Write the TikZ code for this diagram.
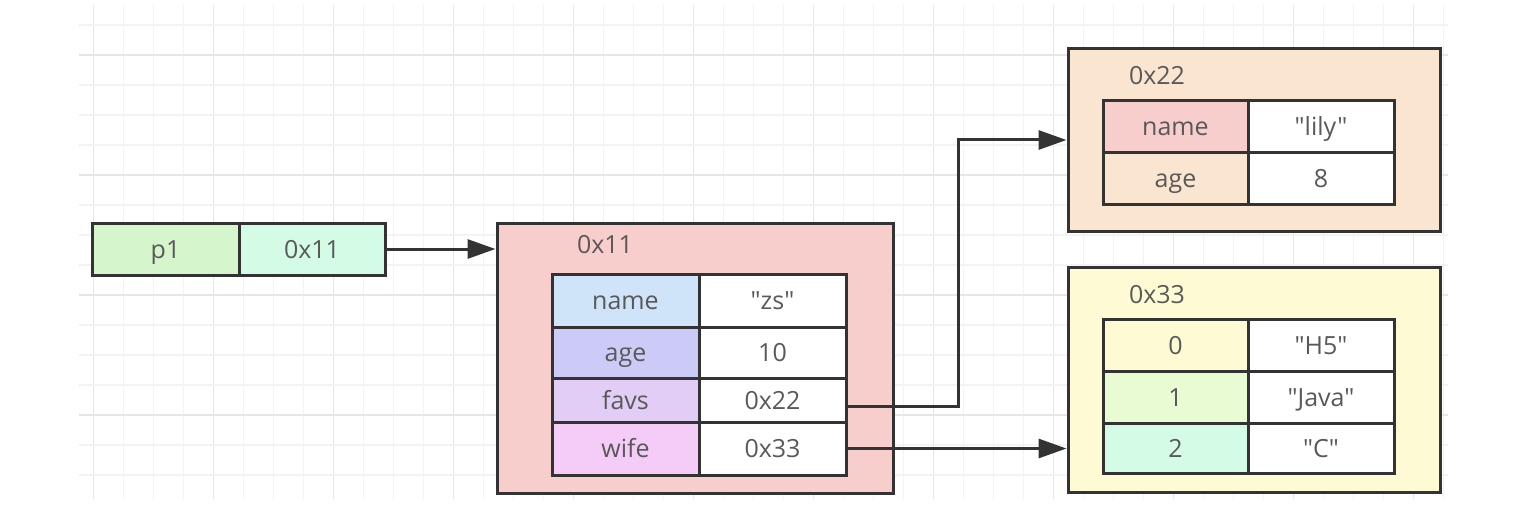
\documentclass[tikz,border=0pt]{standalone}
\usepackage{fontspec}
\newfontfamily\diagfont{Open Sans}
\usetikzlibrary{arrows.meta}
\definecolor{bdr}{HTML}{333333}
\definecolor{txt}{HTML}{595959}
\definecolor{gridminor}{HTML}{F3F3F3}
\definecolor{gridmajor}{HTML}{E6E6E6}
\definecolor{cP}{HTML}{D5F5CC}
\definecolor{cMint}{HTML}{D4FBE5}
\definecolor{cPink}{HTML}{F8CECC}
\definecolor{cBlue}{HTML}{CFE3F9}
\definecolor{cLav}{HTML}{CCCBF7}
\definecolor{cViolet}{HTML}{E2CDF7}
\definecolor{cMag}{HTML}{F5CCF7}
\definecolor{cPeach}{HTML}{FAE5D0}
\definecolor{cYel}{HTML}{FEFBD4}
\definecolor{cLime}{HTML}{E9FBD2}
\begin{document}
\begin{tikzpicture}[x=1pt,y=-1pt,
  txtstyle/.style={text=txt, font=\diagfont\fontsize{25pt}{30pt}\selectfont, text height=18pt, text depth=0pt, inner sep=0pt},
  cell/.style={txtstyle, draw=bdr, line width=3pt, minimum width=#1, anchor=center},
  box/.style={draw=bdr, line width=3pt, inner sep=0pt},
  lbl/.style={txtstyle, anchor=center},
  arr/.style={draw=bdr, line width=3pt, -{Triangle[length=28pt,width=19pt]}}
]
\useasboundingbox (0,0) rectangle (1524,524);
\fill[white] (0,0) rectangle (1524,524);
% grid
\foreach \k in {0,...,45} {
  \pgfmathtruncatemacro{\m}{mod(\k,4)}
  \ifnum\m=0
    \draw[gridmajor, line width=1.6pt] ({93.3+30*\k},5) -- ({93.3+30*\k},499);
  \else
    \draw[gridminor, line width=1.6pt] ({93.3+30*\k},5) -- ({93.3+30*\k},499);
  \fi
}
\foreach \k in {0,...,15} {
  \pgfmathtruncatemacro{\m}{mod(\k+3,4)}
  \ifnum\m=0
    \draw[gridmajor, line width=1.6pt] (79,{25+30*\k}) -- (1448,{25+30*\k});
  \else
    \draw[gridminor, line width=1.6pt] (79,{25+30*\k}) -- (1448,{25+30*\k});
  \fi
}
% p1
\node[cell=147pt, fill=cP, minimum height=52pt] (p1) at (165.5,249) {p1};
\node[cell=146pt, fill=cMint, minimum height=52pt] (v1) at (312,249) {0x11};
% object 0x11
\node[box, fill=cPink, minimum width=396pt, minimum height=270pt] (b11) at (695,358) {};
\node[lbl] (l11) at (605,244) {0x11};
\node[cell=147pt, fill=cBlue, minimum height=53pt] (n1) at (625.5,300.5) {name};
\node[cell=147pt, fill=white, minimum height=53pt] (n2) at (772.5,300.5) {"zs"};
\node[cell=147pt, fill=cLav, minimum height=51pt] (a1) at (625.5,352.5) {age};
\node[cell=147pt, fill=white, minimum height=51pt] (a2) at (772.5,352.5) {10};
\node[cell=147pt, fill=cViolet, minimum height=44pt] (f1) at (625.5,400) {favs};
\node[cell=147pt, fill=white, minimum height=44pt] (f2) at (772.5,400) {0x22};
\node[cell=147pt, fill=cMag, minimum height=53pt] (w1) at (625.5,448.5) {wife};
\node[cell=147pt, fill=white, minimum height=53pt] (w2) at (772.5,448.5) {0x33};
% object 0x22
\node[box, fill=cPeach, minimum width=372pt, minimum height=182pt] (b22) at (1254,140) {};
\node[lbl] (l22) at (1157,76) {0x22};
\node[cell=145pt, fill=cPink, minimum height=52pt] (m1) at (1175.5,127) {name};
\node[cell=146pt, fill=white, minimum height=52pt] (m2) at (1321,127) {"lily"};
\node[cell=145pt, fill=cPeach, minimum height=51pt] (g1) at (1175.5,178.5) {age};
\node[cell=146pt, fill=white, minimum height=51pt] (g2) at (1321,178.5) {8};
% object 0x33
\node[box, fill=cYel, minimum width=372pt, minimum height=225pt] (b33) at (1254,379.5) {};
\node[lbl] (l33) at (1157,294) {0x33};
\node[cell=145pt, fill=cYel, minimum height=52pt] (z1) at (1175.5,345) {0};
\node[cell=146pt, fill=white, minimum height=52pt] (z2) at (1321,345) {"H5"};
\node[cell=145pt, fill=cLime, minimum height=52pt] (o1) at (1175.5,397) {1};
\node[cell=146pt, fill=white, minimum height=52pt] (o2) at (1321,397) {"Java"};
\node[cell=145pt, fill=cMint, minimum height=50pt] (t1) at (1175.5,448) {2};
\node[cell=146pt, fill=white, minimum height=50pt] (t2) at (1321,448) {"C"};
% connectors
\coordinate (bend) at (958,140);
\draw[arr] (v1.east) -- (v1.east -| b11.west);
\draw[arr] ([yshift=-6pt]f2.east) -| (bend) -- (b22.west);
\draw[arr] (w2.east) -- (w2.east -| b33.west);
\end{tikzpicture}
\end{document}
